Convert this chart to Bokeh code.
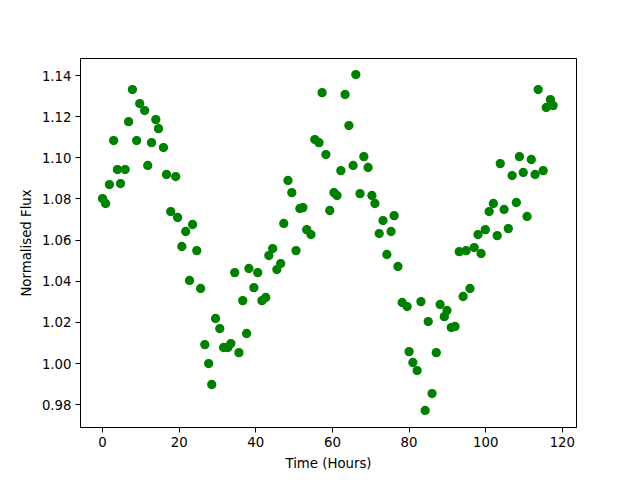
from bokeh.plotting import figure
from bokeh.models import Range1d, FixedTicker, NumeralTickFormatter
from bokeh.embed import file_html
from bokeh.resources import INLINE

time_hours = [0.0, 0.8, 1.8, 2.9, 3.9, 4.7, 5.9, 6.8, 7.8, 8.9,
              9.7, 11.0, 11.8, 12.8, 13.9, 14.6, 15.9, 16.7, 17.8, 19.1,
              19.6, 20.7, 21.7, 22.7, 23.5, 24.6, 25.6, 26.7, 27.7, 28.5,
              29.5, 30.6, 31.6, 32.7, 33.5, 34.5, 35.6, 36.6, 37.6, 38.2,
              39.5, 40.5, 41.6, 42.6, 43.4, 44.4, 45.5, 46.5, 47.3, 48.4,
              49.4, 50.5, 51.5, 52.3, 53.3, 54.4, 55.4, 56.5, 57.3, 58.3,
              59.3, 60.4, 61.2, 62.2, 63.3, 64.3, 65.4, 66.1, 67.2, 68.2,
              69.3, 70.3, 71.1, 72.2, 73.2, 74.2, 75.3, 76.1, 77.1, 78.2,
              79.5, 80.0, 81.0, 82.1, 83.1, 84.2, 85.0, 86.0, 87.1, 88.1,
              89.2, 89.9, 91.0, 92.0, 93.1, 94.1, 94.9, 95.9, 97.0, 98.0,
              98.8, 99.9, 100.9, 102.0, 103.0, 103.8, 104.8, 105.9, 106.9, 108.0,
              108.8, 109.8, 110.8, 111.9, 112.9, 113.7, 115.0, 115.8, 116.9, 117.6]

flux = [1.0802, 1.0778, 1.0870, 1.1084, 1.0943, 1.0875, 1.0943, 1.1176, 1.1332, 1.1084,
        1.1264, 1.1230, 1.0963, 1.1074, 1.1186, 1.1142, 1.1050, 1.0919, 1.0739, 1.0909,
        1.0710, 1.0569, 1.0642, 1.0404, 1.0676, 1.0549, 1.0365, 1.0092, 1.0000, 0.9898,
        1.0219, 1.0170, 1.0078, 1.0078, 1.0097, 1.0442, 1.0053, 1.0306, 1.0146, 1.0462,
        1.0369, 1.0442, 1.0306, 1.0321, 1.0525, 1.0559, 1.0457, 1.0486, 1.0681, 1.0890,
        1.0831, 1.0549, 1.0754, 1.0758, 1.0651, 1.0627, 1.1089, 1.1074, 1.1317, 1.1016,
        1.0744, 1.0831, 1.0817, 1.0938, 1.1308, 1.1157, 1.0963, 1.1405, 1.0826, 1.1006,
        1.0953, 1.0817, 1.0778, 1.0632, 1.0695, 1.0530, 1.0642, 1.0719, 1.0472, 1.0297,
        1.0277, 1.0058, 1.0005, 0.9966, 1.0301, 0.9772, 1.0204, 0.9854, 1.0053, 1.0287,
        1.0228, 1.0258, 1.0175, 1.0180, 1.0544, 1.0326, 1.0549, 1.0365, 1.0564, 1.0627,
        1.0535, 1.0651, 1.0739, 1.0778, 1.0622, 1.0972, 1.0749, 1.0656, 1.0914, 1.0783,
        1.1006, 1.0929, 1.0715, 1.0992, 1.0919, 1.1332, 1.0938, 1.1245, 1.1283, 1.1254]

x_ticks = [0, 20, 40, 60, 80, 100, 120]
y_ticks = [0.98, 1.00, 1.02, 1.04, 1.06, 1.08, 1.10, 1.12, 1.14]

p = figure(frame_width=496, frame_height=369,
           min_border_left=80, min_border_right=64,
           min_border_top=58, min_border_bottom=53,
           output_backend="svg", toolbar_location=None,
           x_range=Range1d(-5.75, 123.7), y_range=Range1d(0.9689, 1.1483))

p.scatter(time_hours, flux, size=8, fill_color="#008000",
          line_color="#008000", line_width=1.3)

p.grid.visible = False
p.outline_line_color = "black"
p.outline_line_width = 1
p.background_fill_color = "white"
p.border_fill_color = "white"

p.xaxis.ticker = FixedTicker(ticks=x_ticks)
p.yaxis.ticker = FixedTicker(ticks=y_ticks)
p.yaxis.formatter = NumeralTickFormatter(format="0.00")

for ax in (p.xaxis[0], p.yaxis[0]):
    ax.major_tick_in = 0
    ax.major_tick_out = 5
    ax.minor_tick_in = 0
    ax.minor_tick_out = 0
    ax.major_label_standoff = 4
    ax.major_label_text_font = "DejaVu Sans"
    ax.major_label_text_font_size = "13.3px"
    ax.major_label_text_color = "black"
    ax.axis_label_text_font = "DejaVu Sans"
    ax.axis_label_text_font_size = "13.3px"
    ax.axis_label_text_font_style = "normal"
    ax.axis_label_text_color = "black"
    ax.axis_line_color = "black"
    ax.major_tick_line_color = "black"

p.xaxis.axis_label = "Time (Hours)"
p.yaxis.axis_label = "Normalised Flux"
p.xaxis.axis_label_standoff = 6
p.yaxis.axis_label_standoff = 5

open("out.html", "w").write(file_html(p, INLINE))
